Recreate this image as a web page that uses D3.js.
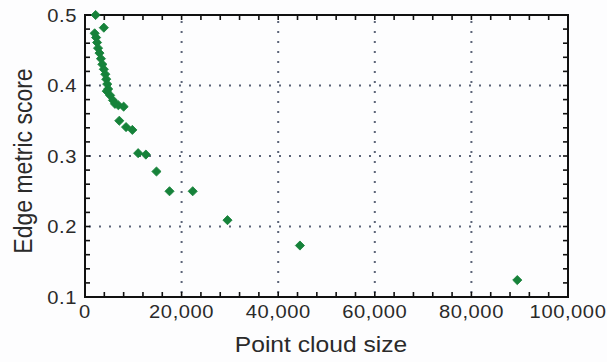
<!DOCTYPE html>
<html>
<head>
<meta charset="utf-8">
<script src="https://cdn.jsdelivr.net/npm/d3@7"></script>
<style>
  html, body { margin: 0; padding: 0; background: #fdfdfe; }
  svg { display: block; }
  text { font-family: "Liberation Sans", Arial, sans-serif; fill: #2a2a2a; }
</style>
</head>
<body>
<svg id="chart" width="607" height="362"></svg>
<script>
// Point cloud size vs. edge metric score
const cloudSize = [2200, 3900, 2000, 2300, 2500, 2700, 3000, 3300, 3600, 3900,
                   4200, 4400, 4600, 4800, 4500, 5200, 5800, 6200, 6900, 8000,
                   7100, 8500, 9800, 11000, 12600, 14800, 17500, 22300, 29500,
                   44500, 89500];
const edgeScore = [0.500, 0.482, 0.474, 0.468, 0.461, 0.453, 0.446, 0.438, 0.430, 0.423,
                   0.416, 0.409, 0.402, 0.395, 0.392, 0.386, 0.379, 0.374, 0.372, 0.370,
                   0.350, 0.341, 0.337, 0.304, 0.302, 0.278, 0.250, 0.250, 0.209,
                   0.173, 0.124];

const xTicks = [0, 20000, 40000, 60000, 80000, 100000];
const xTickLabels = ["0", "20,000", "40,000", "60,000", "80,000", "100,000"];
const yTicks = [0.1, 0.2, 0.3, 0.4, 0.5];
const yTickLabels = ["0.1", "0.2", "0.3", "0.4", "0.5"];
const xGrid = [20000, 40000, 60000, 80000];
const yGrid = [0.2, 0.3, 0.4];
const xMinor = d3.range(0, 100001, 4000);
const yMinor = d3.range(0, 21).map(i => 0.1 + i * 0.02);

const xTitle = "Point cloud size";
const yTitle = "Edge metric score";

const svg = d3.select("#chart");
const plotL = 85, plotR = 568, plotT = 15, plotB = 297;
const stretch = 1.12;

const x = d3.scaleLinear().domain([0, 100000]).range([plotL, plotR]);
const y = d3.scaleLinear().domain([0.1, 0.5]).range([plotB, plotT]);

// dotted grid
const grid = svg.append("g")
  .attr("stroke", "#5c6478").attr("stroke-width", 2)
  .attr("stroke-dasharray", "2,8");
grid.selectAll(".gx").data(xGrid).join("line")
  .attr("x1", d => x(d)).attr("x2", d => x(d))
  .attr("y1", plotB - 4).attr("y2", plotT);
grid.selectAll(".gy").data(yGrid).join("line")
  .attr("x1", plotL + 4).attr("x2", plotR)
  .attr("y1", d => y(d)).attr("y2", d => y(d));

// inward ticks on all four sides
const tickLen = 5;
const ticks = svg.append("g").attr("stroke", "#111").attr("stroke-width", 1.6);
xMinor.forEach(v => {
  ticks.append("line").attr("x1", x(v)).attr("x2", x(v))
    .attr("y1", plotB).attr("y2", plotB - tickLen);
  ticks.append("line").attr("x1", x(v)).attr("x2", x(v))
    .attr("y1", plotT).attr("y2", plotT + tickLen);
});
yMinor.forEach(v => {
  ticks.append("line").attr("x1", plotL).attr("x2", plotL + tickLen)
    .attr("y1", y(v)).attr("y2", y(v));
  ticks.append("line").attr("x1", plotR).attr("x2", plotR - tickLen)
    .attr("y1", y(v)).attr("y2", y(v));
});

// frame
svg.append("rect")
  .attr("x", plotL).attr("y", plotT)
  .attr("width", plotR - plotL).attr("height", plotB - plotT)
  .attr("fill", "none").attr("stroke", "#111").attr("stroke-width", 2);

// tick labels
svg.append("g").selectAll("text").data(xTicks).join("text")
  .attr("transform", d => `translate(${x(d)},${plotB + 21}) scale(${stretch},1)`)
  .attr("text-anchor", "middle")
  .attr("font-size", 18)
  .attr("letter-spacing", 0.5)
  .text((d, i) => xTickLabels[i]);

svg.append("g").selectAll("text").data(yTicks).join("text")
  .attr("transform", d => `translate(77,${y(d) + 6.5}) scale(${stretch},1)`)
  .attr("text-anchor", "end")
  .attr("font-size", 18)
  .attr("letter-spacing", 0.5)
  .text((d, i) => yTickLabels[i]);

// axis titles
svg.append("text")
  .attr("transform", `translate(321,352) scale(${stretch},1)`)
  .attr("text-anchor", "middle")
  .attr("font-size", 22)
  .text(xTitle);

svg.append("text")
  .attr("transform", `translate(32,161) scale(${stretch},1) rotate(-90)`)
  .attr("text-anchor", "middle")
  .attr("font-size", 23)
  .text(yTitle);

// data points
const pts = cloudSize.map((v, i) => ({ x: v, y: edgeScore[i] }));
const diamond = d3.symbol().type(d3.symbolSquare).size(42);
svg.append("g").selectAll("path").data(pts).join("path")
  .attr("transform", d => `translate(${x(d.x)},${y(d.y)}) rotate(45)`)
  .attr("d", diamond)
  .attr("fill", "#16823a")
  .attr("stroke", "#16823a")
  .attr("stroke-width", 0.8)
  .attr("stroke-linejoin", "round");
</script>
</body>
</html>
